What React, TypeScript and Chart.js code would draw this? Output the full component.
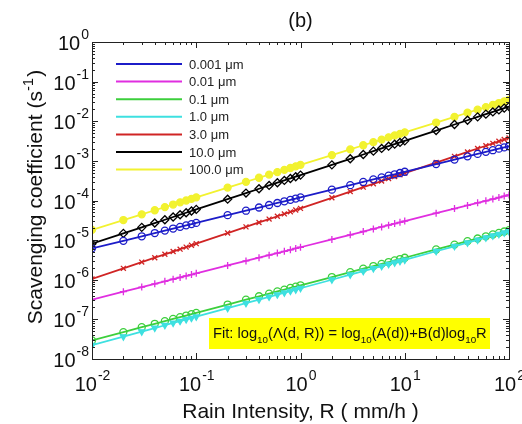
import React, { useEffect, useRef } from "react";
import { Chart, registerables } from "chart.js";

Chart.register(...registerables);

// Rain intensity R (mm/h)
const rainIntensity = [
  0.01, 0.02, 0.03, 0.04, 0.05, 0.06, 0.07, 0.08, 0.09,
  0.1, 0.2, 0.3, 0.4, 0.5, 0.6, 0.7, 0.8, 0.9,
  1, 2, 3, 4, 5, 6, 7, 8, 9,
  10, 20, 30, 40, 50, 60, 70, 80, 90, 100,
];

// Scavenging coefficient (s^-1) per particle diameter
const d0001 = [
  6.2e-6, 9.6e-6, 1.25e-5, 1.51e-5, 1.74e-5, 1.96e-5, 2.16e-5, 2.36e-5, 2.54e-5,
  2.72e-5, 4.26e-5, 5.53e-5, 6.65e-5, 7.69e-5, 8.65e-5, 9.55e-5, 1.04e-4, 1.12e-4,
  1.2e-4, 1.88e-4, 2.44e-4, 2.94e-4, 3.4e-4, 3.82e-4, 4.22e-4, 4.59e-4, 4.95e-4,
  5.31e-4, 8.3e-4, 1.08e-3, 1.3e-3, 1.5e-3, 1.69e-3, 1.86e-3, 2.03e-3, 2.19e-3, 2.34e-3,
];
const d001 = [
  3.16e-7, 5.0e-7, 6.53e-7, 7.89e-7, 9.14e-7, 1.03e-6, 1.14e-6, 1.25e-6, 1.35e-6,
  1.45e-6, 2.29e-6, 2.99e-6, 3.61e-6, 4.18e-6, 4.71e-6, 5.22e-6, 5.7e-6, 6.17e-6,
  6.61e-6, 1.04e-5, 1.36e-5, 1.65e-5, 1.91e-5, 2.15e-5, 2.39e-5, 2.61e-5, 2.82e-5,
  3.02e-5, 4.78e-5, 6.24e-5, 7.53e-5, 8.73e-5, 9.84e-5, 1.09e-4, 1.19e-4, 1.29e-4, 1.38e-4,
];
const d01 = [
  2.95e-8, 4.78e-8, 6.34e-8, 7.73e-8, 9.03e-8, 1.03e-7, 1.14e-7, 1.25e-7, 1.36e-7,
  1.46e-7, 2.37e-7, 3.14e-7, 3.83e-7, 4.48e-7, 5.08e-7, 5.65e-7, 6.21e-7, 6.73e-7,
  7.24e-7, 1.17e-6, 1.56e-6, 1.9e-6, 2.22e-6, 2.52e-6, 2.8e-6, 3.08e-6, 3.33e-6,
  3.59e-6, 5.81e-6, 7.71e-6, 9.4e-6, 1.1e-5, 1.25e-5, 1.39e-5, 1.52e-5, 1.65e-5, 1.78e-5,
];
const d1 = [
  2.24e-8, 3.68e-8, 4.92e-8, 6.05e-8, 7.11e-8, 8.11e-8, 9.06e-8, 9.95e-8, 1.08e-7,
  1.17e-7, 1.92e-7, 2.56e-7, 3.16e-7, 3.71e-7, 4.23e-7, 4.72e-7, 5.19e-7, 5.65e-7,
  6.1e-7, 1.0e-6, 1.34e-6, 1.65e-6, 1.94e-6, 2.21e-6, 2.47e-6, 2.71e-6, 2.95e-6,
  3.18e-6, 5.24e-6, 7.0e-6, 8.61e-6, 1.01e-5, 1.15e-5, 1.29e-5, 1.42e-5, 1.54e-5, 1.66e-5,
];
const d3 = [
  1.05e-6, 1.94e-6, 2.79e-6, 3.6e-6, 4.39e-6, 5.15e-6, 5.92e-6, 6.67e-6, 7.4e-6,
  8.13e-6, 1.51e-5, 2.16e-5, 2.79e-5, 3.4e-5, 4.0e-5, 4.59e-5, 5.18e-5, 5.74e-5,
  6.31e-5, 1.17e-4, 1.68e-4, 2.17e-4, 2.64e-4, 3.1e-4, 3.56e-4, 4.02e-4, 4.46e-4,
  4.9e-4, 9.08e-4, 1.3e-3, 1.68e-3, 2.05e-3, 2.41e-3, 2.77e-3, 3.12e-3, 3.46e-3, 3.8e-3,
];
const d10 = [
  8.13e-6, 1.48e-5, 2.1e-5, 2.7e-5, 3.27e-5, 3.83e-5, 4.38e-5, 4.91e-5, 5.43e-5,
  5.96e-5, 1.08e-4, 1.54e-4, 1.98e-4, 2.4e-4, 2.81e-4, 3.21e-4, 3.6e-4, 3.98e-4,
  4.37e-4, 7.94e-4, 1.13e-3, 1.45e-3, 1.76e-3, 2.06e-3, 2.35e-3, 2.64e-3, 2.92e-3,
  3.2e-3, 5.82e-3, 8.28e-3, 1.06e-2, 1.29e-2, 1.51e-2, 1.72e-2, 1.93e-2, 2.14e-2, 2.34e-2,
];
const d100 = [
  1.82e-5, 3.21e-5, 4.48e-5, 5.68e-5, 6.81e-5, 7.91e-5, 8.97e-5, 1.0e-4, 1.1e-4,
  1.2e-4, 2.12e-4, 2.96e-4, 3.75e-4, 4.5e-4, 5.22e-4, 5.93e-4, 6.61e-4, 7.28e-4,
  7.94e-4, 1.4e-3, 1.95e-3, 2.48e-3, 2.97e-3, 3.45e-3, 3.92e-3, 4.37e-3, 4.81e-3,
  5.25e-3, 9.27e-3, 1.29e-2, 1.64e-2, 1.96e-2, 2.28e-2, 2.59e-2, 2.88e-2, 3.18e-2, 3.47e-2,
];

const seriesLabels = ["0.001 μm", "0.01 μm", "0.1 μm", "1.0 μm", "3.0 μm", "10.0 μm", "100.0 μm"];
const seriesValues = [d0001, d001, d01, d1, d3, d10, d100];
const seriesColors = ["#1c1cc8", "#e02ee0", "#3ccf3c", "#3ee0e0", "#d02424", "#000000", "#f2f230"];

const xTickExps = [-2, -1, 0, 1, 2];
const yTickExps = [-8, -7, -6, -5, -4, -3, -2, -1, 0];

const titleText = "(b)";
const xTitle = "Rain Intensity, R ( mm/h )";
const yTitleMain = "Scavenging coefficient (s";
const yTitleSup = "-1";
const yTitleEnd = ")";

const FONT = "'Liberation Sans', Arial, sans-serif";

const overlayPlugin = {
  id: "overlay",
  afterDraw(chart: any) {
    const ctx = chart.ctx as CanvasRenderingContext2D;
    const xs = chart.scales.x;
    const ys = chart.scales.y;
    const { left, right, top, bottom } = chart.chartArea;
    ctx.save();

    // frame
    ctx.strokeStyle = "#222";
    ctx.lineWidth = 1;
    ctx.strokeRect(Math.round(left) + 0.5, Math.round(top) + 0.5, Math.round(right - left), Math.round(bottom - top));

    // ticks
    ctx.beginPath();
    const major = 6, minor = 3;
    for (const e of xTickExps) {
      const px = Math.round(xs.getPixelForValue(Math.pow(10, e))) + 0.5;
      ctx.moveTo(px, bottom); ctx.lineTo(px, bottom - major);
      ctx.moveTo(px, top); ctx.lineTo(px, top + major);
      if (e < xTickExps[xTickExps.length - 1]) {
        for (let k = 2; k <= 9; k++) {
          const mx = Math.round(xs.getPixelForValue(k * Math.pow(10, e))) + 0.5;
          ctx.moveTo(mx, bottom); ctx.lineTo(mx, bottom - minor);
          ctx.moveTo(mx, top); ctx.lineTo(mx, top + minor);
        }
      }
    }
    for (const e of yTickExps) {
      const py = Math.round(ys.getPixelForValue(Math.pow(10, e))) + 0.5;
      ctx.moveTo(left, py); ctx.lineTo(left + major, py);
      ctx.moveTo(right, py); ctx.lineTo(right - major, py);
      if (e < yTickExps[yTickExps.length - 1]) {
        for (let k = 2; k <= 9; k++) {
          const my = Math.round(ys.getPixelForValue(k * Math.pow(10, e))) + 0.5;
          ctx.moveTo(left, my); ctx.lineTo(left + minor, my);
          ctx.moveTo(right, my); ctx.lineTo(right - minor, my);
        }
      }
    }
    ctx.stroke();

    // tick labels
    ctx.fillStyle = "#111";
    ctx.textBaseline = "alphabetic";
    const baseFont = `20px ${FONT}`;
    const supFont = `14px ${FONT}`;
    for (const e of xTickExps) {
      const px = xs.getPixelForValue(Math.pow(10, e));
      ctx.font = baseFont;
      const wb = ctx.measureText("10").width;
      ctx.font = supFont;
      const ws = ctx.measureText(String(e)).width;
      const x0 = px - (wb + ws) / 2;
      ctx.font = baseFont;
      ctx.textAlign = "left";
      ctx.fillText("10", x0, 391);
      ctx.font = supFont;
      ctx.fillText(String(e), x0 + wb + 1, 380);
    }
    for (const e of yTickExps) {
      const py = ys.getPixelForValue(Math.pow(10, e));
      ctx.font = supFont;
      const ws = ctx.measureText(String(e)).width;
      ctx.font = baseFont;
      const wb = ctx.measureText("10").width;
      const xr = left - 3;
      ctx.textAlign = "left";
      ctx.font = baseFont;
      ctx.fillText("10", xr - ws - 1 - wb, py + 8);
      ctx.font = supFont;
      ctx.fillText(String(e), xr - ws, py - 3);
    }

    // title
    ctx.font = `20px ${FONT}`;
    ctx.textAlign = "center";
    ctx.fillText(titleText, (left + right) / 2, 27);

    // x title
    ctx.font = `21px ${FONT}`;
    ctx.fillText(xTitle, (left + right) / 2, 418);

    // y title (rotated, with superscript)
    ctx.save();
    ctx.translate(42, 197);
    ctx.rotate(-Math.PI / 2);
    ctx.font = `21px ${FONT}`;
    const w1 = ctx.measureText(yTitleMain).width;
    const w3 = ctx.measureText(yTitleEnd).width;
    ctx.font = `15px ${FONT}`;
    const w2 = ctx.measureText(yTitleSup).width;
    let tx = -(w1 + w2 + w3 + 1) / 2;
    ctx.textAlign = "left";
    ctx.font = `21px ${FONT}`;
    ctx.fillText(yTitleMain, tx, 0);
    tx += w1;
    ctx.font = `15px ${FONT}`;
    ctx.fillText(yTitleSup, tx, -9);
    tx += w2 + 1;
    ctx.font = `21px ${FONT}`;
    ctx.fillText(yTitleEnd, tx, 0);
    ctx.restore();

    // legend
    ctx.font = `13px ${FONT}`;
    ctx.textAlign = "left";
    ctx.textBaseline = "middle";
    seriesLabels.forEach((lab, i) => {
      const y = 64 + i * 17.6;
      ctx.strokeStyle = seriesColors[i];
      ctx.lineWidth = 2;
      ctx.beginPath();
      ctx.moveTo(116, y);
      ctx.lineTo(182, y);
      ctx.stroke();
      ctx.fillStyle = "#222";
      ctx.fillText(lab, 189, y + 1);
    });

    // fit box
    ctx.fillStyle = "#ffff00";
    ctx.fillRect(209, 318, 281, 31);
    const segs: [string, boolean][] = [
      ["Fit: log", false], ["10", true], ["(Λ(d, R)) = log", false], ["10", true],
      ["(A(d))+B(d)log", false], ["10", true], ["R", false],
    ];
    // size the text so it spans the box like the reference
    let total = 0;
    for (const [s, sub] of segs) {
      ctx.font = sub ? `10px ${FONT}` : `15px ${FONT}`;
      total += ctx.measureText(s).width;
    }
    const scale = Math.min(1, 274 / total);
    const nSize = 15 * scale;
    const sSize = 10 * scale;
    ctx.fillStyle = "#111";
    ctx.textBaseline = "alphabetic";
    let fx = 213;
    for (const [s, sub] of segs) {
      ctx.font = sub ? `${sSize}px ${FONT}` : `${nSize}px ${FONT}`;
      ctx.fillText(s, fx, sub ? 343 : 338);
      fx += ctx.measureText(s).width;
    }

    ctx.restore();
  },
};

const pointStyles = ["circle", "cross", "circle", "triangle", "crossRot", "rectRot", "circle"];
const pointFilled = [false, false, false, true, false, false, true];
const pointRotations = [0, 0, 0, 180, 0, 0, 0];
const drawOrder = [3, 4, 2, 1, 5, 6, 7];

export default function App() {
  const ref = useRef<HTMLCanvasElement | null>(null);
  useEffect(() => {
    if (!ref.current) return;
    const datasets = seriesLabels.map((label, i) => ({
      label,
      data: rainIntensity.map((x, j) => ({ x, y: seriesValues[i][j] })),
      borderColor: seriesColors[i],
      backgroundColor: pointFilled[i] ? seriesColors[i] : "rgba(255,255,255,0)",
      borderWidth: 1.8,
      pointStyle: pointStyles[i] as any,
      pointRadius: i === 5 ? 4 : 3.5,
      pointBorderWidth: 1.3,
      pointRotation: pointRotations[i],
      pointBackgroundColor: pointFilled[i] ? seriesColors[i] : "rgba(255,255,255,0)",
      pointBorderColor: seriesColors[i],
      order: drawOrder[i],
      tension: 0,
      fill: false,
    }));
    const chart = new Chart(ref.current, {
      type: "line",
      data: { datasets },
      options: {
        animation: false,
        responsive: false,
        devicePixelRatio: 1,
        events: [],
        layout: { padding: { left: 92, right: 13, top: 42, bottom: 65 } },
        plugins: { legend: { display: false }, tooltip: { enabled: false }, title: { display: false } },
        scales: {
          x: { type: "logarithmic", min: 0.01, max: 100, display: false },
          y: { type: "logarithmic", min: 1e-8, max: 1, display: false },
        },
      },
      plugins: [overlayPlugin],
    });
    return () => chart.destroy();
  }, []);
  return (
    <div style={{ position: "absolute", left: 0, top: 0, width: 522, height: 424, background: "#fff" }}>
      <canvas ref={ref} width={522} height={424} style={{ width: 522, height: 424 }} />
    </div>
  );
}
